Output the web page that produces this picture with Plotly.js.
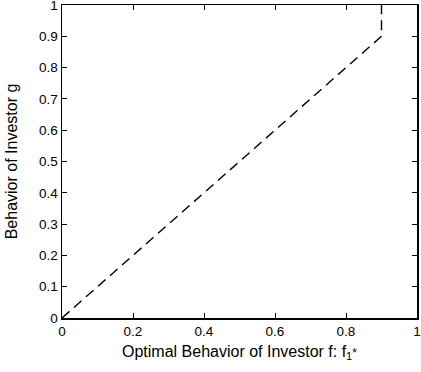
<!DOCTYPE html>
<html><head><meta charset="utf-8">
<script src="https://cdn.plot.ly/plotly-3.0.1.min.js"></script>
<style>html,body{margin:0;padding:0;background:#fff}</style>
</head><body>
<div id="chart" style="width:421px;height:372px"></div>
<script>
const xVals = [0, 0.9, 0.9];
const yVals = [0, 0.9, 1];
const xTickVals = [0,0.2,0.4,0.6,0.8,1];
const xTickText = ['0','0.2','0.4','0.6','0.8','1'];
const yTickVals = [0,0.1,0.2,0.3,0.4,0.5,0.6,0.7,0.8,0.9,1];
const yTickText = ['0','0.1','0.2','0.3','0.4','0.5','0.6','0.7','0.8','0.9','1'];
const xTitle = 'Optimal Behavior of Investor f: f<sub>1</sub><span style="font-size:12px">*</span>';
const yTitle = 'Behavior of Investor g';

const FONT = 'Liberation Sans, Arial, sans-serif';
const axBase = {
  showgrid:false, zeroline:false, showline:true, linecolor:'#000', linewidth:1.5,
  mirror:'allticks', ticks:'inside', ticklen:5, tickwidth:1, tickcolor:'#000',
  tickfont:{family:FONT, size:13.5, color:'#000'},
  ticklabeloverflow:'allow',
  range:[0,1], fixedrange:true
};
const layout = {
  width:421, height:372,
  margin:{l:62, r:4, t:5, b:54},
  paper_bgcolor:'#fff', plot_bgcolor:'#fff',
  showlegend:false,
  xaxis:Object.assign({}, axBase, {
    tickmode:'array', tickvals:xTickVals, ticktext:xTickText
  }),
  yaxis:Object.assign({}, axBase, {
    tickmode:'array', tickvals:yTickVals, ticktext:yTickText,
    title:{text:yTitle, standoff:17,
      font:{family:FONT, size:16, color:'#000'}}
  }),
  annotations:[{
    text:xTitle, xref:'paper', yref:'paper', x:0.5, y:-0.0719,
    xanchor:'center', yanchor:'top', showarrow:false,
    font:{family:FONT, size:16, color:'#000'}
  }]
};
Plotly.newPlot('chart', [{
  x:xVals, y:yVals, type:'scatter', mode:'lines',
  line:{color:'#000', width:1.4, dash:'10px,6px'}, hoverinfo:'skip'
}], layout, {displayModeBar:false, staticPlot:true});
</script>
</body></html>
